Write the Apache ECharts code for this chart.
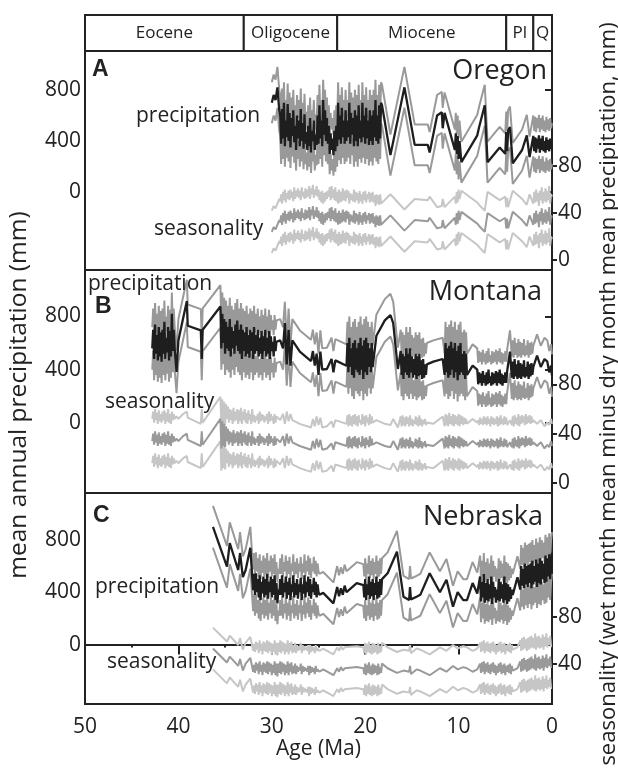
<!DOCTYPE html>
<html>
<head>
<meta charset="utf-8">
<script src="https://cdn.jsdelivr.net/npm/echarts@6/dist/echarts.min.js"></script>
<style>
html, body { margin: 0; padding: 0; background: #fff; }
#chart { width: 618px; height: 769px; }
</style>
</head>
<body>
<div id="chart"></div>
<script>
// epochs: [from Ma, to Ma, label]
var epochs = [[50, 33.0, 'Eocene'], [33.0, 23.0, 'Oligocene'], [23.0, 4.9, 'Miocene'], [4.9, 2.0, 'Pl'], [2.0, 0, 'Q']];
var precipTicks = [0, 400, 800];
var seasTicks = [0, 40, 80];

// model errors (mm)
var precipErr = 160;
var seasErr = 18;

// Oregon
var ageA = [30.0, 29.8, 29.6, 29.4, 29.2,
    29.1, 29.0, 28.9, 28.8, 28.7, 28.6, 28.5, 28.4, 28.3, 28.2,
    28.1, 28.0, 27.9, 27.8, 27.7, 27.6, 27.5, 27.4, 27.3, 27.2,
    27.1, 27.0, 26.9, 26.8, 26.7, 26.6, 26.5, 26.4, 26.3, 26.2,
    26.1, 26.0, 25.9, 25.8, 25.7, 25.6, 25.5, 25.4, 25.3, 25.2,
    25.1, 25.0, 24.9, 24.8, 24.7, 24.6, 24.5, 24.4, 24.3, 24.2,
    24.1, 24.0, 23.9, 23.8, 23.7, 23.6, 23.5, 23.4, 23.3, 23.2,
    23.1, 23.0, 22.9, 22.8, 22.7, 22.6, 22.5, 22.4, 22.3, 22.2,
    22.1, 22.0, 21.9, 21.8, 21.7, 21.6, 21.5, 21.4, 21.3, 21.2,
    21.1, 21.0, 20.9, 20.8, 20.7, 20.6, 20.5, 20.4, 20.3, 20.2,
    20.1, 20.0, 19.9, 19.8, 19.7, 19.6, 19.5, 19.4, 19.3, 19.2,
    19.1, 19.0, 18.9, 18.8, 18.7, 18.6, 18.5, 18.4, 18.3, 18.2,
    17.3, 15.8, 14.7, 13.3, 13.1, 12.3, 11.8, 11.7, 11.5, 10.4,
    10.3, 10.2, 10.1, 10.0, 9.9, 9.7, 9.5, 8.0, 7.8, 7.2,
    6.9, 5.6, 5.0, 4.9, 4.8, 4.7, 4.5, 4.2, 3.2, 2.7,
    2.4,
    2.0, 1.9, 1.8, 1.7, 1.6, 1.5, 1.4, 1.3, 1.2, 1.1,
    1.0, 0.9, 0.8, 0.7, 0.6, 0.5, 0.4, 0.3, 0.2, 0.1,
    0.0];
var mapA = [700, 760, 720, 820, 640,
    600, 380, 650, 420, 700, 360, 560, 430, 690, 400,
    620, 350, 580, 440, 640, 390, 520, 330, 600, 420,
    560, 360, 650, 400, 540, 340, 610, 380, 470, 330,
    520, 360, 580, 310, 480, 400, 560, 330, 450, 370,
    600, 380, 680, 420, 560, 360, 720, 450, 640, 400,
    580, 380, 520, 300, 460, 330, 420, 290, 480, 320,
    520, 360, 700, 410, 600, 380, 660, 430, 560, 380,
    640, 400, 560, 430, 700, 380, 620, 450, 580, 360,
    640, 400, 600, 360, 680, 420, 560, 390, 700, 430,
    600, 380, 660, 420, 560, 370, 640, 400, 600, 370,
    640, 430, 720, 400, 600, 380, 680, 420, 700, 680,
    290, 820, 370, 370, 310, 600, 625, 500, 620, 330,
    460, 300, 440, 260, 400, 235, 250, 445, 510, 680,
    235, 350, 300, 470, 320, 480, 510, 225, 330, 445,
    275,
    440, 320, 430, 310, 420, 340, 445, 310, 420, 330,
    440, 320, 400, 310, 430, 330, 410, 320, 420, 340,
    380];
var seasA = [24, 28, 26, 30, 34,
    32, 38, 30, 40, 33, 42, 31, 39, 34, 41,
    33, 42, 35, 40, 32, 44, 34, 41, 36, 43,
    35, 41, 33, 44, 36, 40, 34, 43, 35, 42,
    36, 45, 34, 43, 38, 46, 35, 42, 37, 45,
    36, 42, 33, 40, 31, 41, 30, 39, 32, 40,
    34, 41, 36, 44, 33, 45, 35, 42, 33, 44,
    32, 40, 30, 42, 31, 40, 32, 43, 33, 41,
    32, 42, 35, 41, 30, 39, 33, 38, 32, 42,
    31, 40, 33, 39, 30, 41, 32, 38, 30, 40,
    33, 41, 31, 38, 34, 40, 31, 39, 32, 40,
    31, 37, 28, 38, 30, 37, 29, 38, 30, 30,
    38, 25, 34, 33, 36, 27, 28, 34, 27, 36,
    30, 40, 31, 42, 34, 41, 40, 31, 29, 24,
    40, 33, 36, 27, 35, 27, 26, 41, 34, 29,
    38,
    30, 40, 31, 42, 32, 39, 28, 41, 33, 44,
    30, 40, 32, 43, 31, 41, 33, 45, 30, 38,
    36];

// Montana
var ageB = [42.8, 42.7, 42.6, 42.5, 42.4, 42.3, 42.2, 42.1, 42.0, 41.9,
    41.8, 41.7, 41.6, 41.5, 41.4, 41.3, 41.2, 41.1, 41.0, 40.9,
    40.8, 40.7, 40.6, 40.5, 40.4,
    40.2, 40.0, 39.5, 39.1, 39.0, 38.8, 37.6, 37.5, 37.4,
    35.5, 35.4, 35.3, 35.2, 35.1, 35.0, 34.9, 34.8, 34.7, 34.6,
    34.5, 34.4, 34.3, 34.2, 34.1, 34.0, 33.9, 33.8, 33.7, 33.6,
    33.5, 33.4, 33.3, 33.2, 33.1, 33.0, 32.9, 32.8, 32.7, 32.6,
    32.5, 32.4, 32.3, 32.2, 32.1, 32.0, 31.9, 31.8, 31.7, 31.6,
    31.5, 31.4, 31.3, 31.2, 31.1, 31.0, 30.9, 30.8, 30.7, 30.6,
    30.5, 30.4, 30.3, 30.2, 30.1, 30.0, 29.9, 29.8, 29.7, 29.6,
    29.5,
    29.1, 28.8, 28.6, 28.4, 28.2, 28.0, 27.8, 27.0, 25.8, 25.6,
    25.4, 25.2, 25.0, 24.8, 24.6, 24.1, 23.6, 23.4, 23.2, 22.0,
    21.9, 21.8, 21.7, 21.6, 21.5, 21.4, 21.3, 21.2, 21.1, 21.0,
    20.9, 20.8, 20.7, 20.6, 20.5, 20.4, 20.3, 20.2, 20.1, 20.0,
    19.9, 19.8, 19.7, 19.6, 19.5, 19.4, 19.3, 19.2,
    18.8, 17.9, 17.3, 17.0, 16.5,
    16.2, 16.1, 16.0, 15.9, 15.8, 15.7, 15.6, 15.5, 15.4, 15.3,
    15.2, 15.1, 15.0, 14.9, 14.8, 14.7, 14.6, 14.5, 14.4, 14.3,
    14.2, 14.1, 14.0, 13.9, 13.8, 13.7, 13.6, 13.5, 13.4,
    12.7, 11.7,
    11.5, 11.4, 11.3, 11.2, 11.1, 11.0, 10.9, 10.8, 10.7, 10.6,
    10.5, 10.4, 10.3, 10.2, 10.1, 10.0, 9.9, 9.8, 9.7, 9.6,
    9.5, 9.4, 9.3, 9.2, 9.1,
    8.5,
    8.0, 7.9, 7.8, 7.7, 7.6, 7.5, 7.4, 7.3, 7.2, 7.1,
    7.0, 6.9, 6.8, 6.7, 6.6, 6.5, 6.4, 6.3, 6.2, 6.1,
    6.0, 5.9, 5.8, 5.7, 5.6, 5.5, 5.4, 5.3, 5.2, 5.1,
    5.0, 4.9, 4.8,
    4.5,
    4.3, 4.2, 4.1, 4.0, 3.9, 3.8, 3.7, 3.6, 3.5, 3.4,
    3.3, 3.2, 3.1, 3.0, 2.9, 2.8, 2.7, 2.6, 2.5, 2.4,
    2.3, 2.2, 2.1, 2.0,
    1.6, 1.2, 0.8, 0.5, 0.3, 0.1, 0.0];
var mapB = [560, 700, 480, 740, 520, 660, 470, 720, 500, 680,
    460, 700, 520, 760, 480, 640, 530, 720, 470, 690,
    500, 820, 540, 700, 560,
    383, 620, 785, 915, 730, 730, 695, 480, 700,
    875, 560, 820, 600, 780, 520, 760, 560, 720, 540,
    780, 500, 720, 560, 690, 520, 740, 580, 770, 540,
    700, 520, 740, 480, 700, 540, 680, 500, 720, 520,
    660, 490, 700, 540, 680, 480, 720, 520, 660, 540,
    700, 500, 640, 520, 690, 480, 650, 540, 700, 500,
    640, 520, 690, 480, 650, 540, 610, 500, 650, 540,
    610,
    620, 560, 750, 440, 700, 430, 620, 535, 465, 540,
    430, 520, 360, 535, 400, 405, 480, 380, 470, 430,
    600, 380, 640, 420, 560, 360, 600, 340, 620, 400,
    560, 380, 600, 360, 640, 400, 580, 330, 620, 380,
    640, 360, 600, 420, 560, 380, 600, 420,
    655, 770, 810, 750, 405,
    540, 360, 520, 330, 500, 380, 560, 360, 520, 340,
    560, 380, 500, 340, 480, 360, 520, 330, 500, 350,
    520, 360, 470, 330, 480, 340, 440, 360, 440,
    460, 480,
    360, 600, 380, 560, 340, 580, 360, 610, 400, 560,
    340, 600, 380, 540, 320, 580, 360, 600, 380, 520,
    360, 540, 330, 520, 360,
    430,
    400, 290, 380, 300, 370, 280, 390, 300, 360, 280,
    380, 290, 400, 300, 350, 280, 380, 290, 370, 300,
    390, 280, 380, 300, 400, 290, 370, 280, 360, 300,
    380, 300, 390,
    535,
    340, 460, 330, 480, 350, 440, 330, 470, 340, 450,
    330, 440, 350, 470, 340, 420, 350, 460, 330, 440,
    350, 450, 360, 420,
    505, 420, 480, 460, 380, 430, 355];
var seasB = [34, 40, 31, 42, 33, 39, 30, 41, 32, 38,
    31, 40, 33, 41, 30, 39, 32, 42, 31, 38,
    30, 40, 33, 38, 34,
    36, 34, 38, 40, 35, 36, 30, 42, 31,
    52, 28, 50, 30, 48, 29, 46, 34, 44, 31,
    42, 33, 41, 30, 43, 32, 40, 33, 42, 30,
    41, 32, 43, 30, 40, 33, 42, 31, 39, 30,
    41, 33, 38, 30, 42, 32, 37, 31, 36, 33,
    38, 30, 40, 32, 38, 33, 37, 31, 36, 33,
    38, 30, 40, 32, 38, 33, 36, 30, 38, 31,
    36,
    33, 38, 30, 40, 32, 38, 33, 30, 27, 34,
    28, 36, 29, 35, 27, 28, 32, 27, 33, 30,
    37, 28, 38, 29, 36, 28, 37, 30, 38, 29,
    36, 28, 37, 31, 33, 29, 38, 30, 36, 28,
    37, 31, 35, 29, 38, 30, 36, 31,
    33, 30, 29, 34, 27,
    36, 28, 37, 29, 35, 28, 36, 30, 35, 28,
    37, 29, 34, 28, 33, 30, 36, 29, 35, 28,
    37, 29, 34, 28, 33, 30, 34, 29, 31,
    30, 36,
    28, 38, 29, 37, 28, 39, 30, 36, 29, 38,
    28, 37, 30, 36, 29, 38, 28, 37, 30, 36,
    29, 35, 30, 34, 30,
    34,
    31, 33, 29, 35, 30, 34, 29, 36, 30, 35,
    29, 36, 30, 34, 28, 36, 30, 35, 29, 34,
    30, 36, 28, 35, 29, 37, 30, 34, 29, 36,
    30, 35, 29,
    33,
    29, 36, 28, 37, 30, 35, 29, 38, 28, 36,
    30, 37, 31, 36, 29, 38, 30, 36, 31, 37,
    30, 36, 31, 33,
    30, 33, 28, 31, 29, 34, 30];

// Nebraska
var ageC = [36.3, 34.8, 34.5, 33.6, 33.4, 33.1, 32.8, 32.3,
    32.0, 31.9, 31.8, 31.7, 31.6, 31.5, 31.4, 31.3, 31.2, 31.1,
    31.0, 30.9, 30.8, 30.7, 30.6, 30.5, 30.4, 30.3, 30.2, 30.1,
    30.0, 29.9, 29.8, 29.7, 29.6, 29.5, 29.4, 29.3, 29.2, 29.1,
    29.0, 28.9, 28.8, 28.7, 28.6, 28.5, 28.4, 28.3, 28.2, 28.1,
    28.0, 27.9, 27.8, 27.7, 27.6, 27.5, 27.4, 27.3, 27.2, 27.1,
    27.0, 26.9, 26.8, 26.7, 26.6, 26.5, 26.4, 26.3, 26.2, 26.1,
    26.0, 25.9, 25.8, 25.7, 25.6, 25.5, 25.4, 25.3, 25.2, 25.1,
    25.0, 24.9,
    24.5, 23.4, 23.0, 22.8, 22.6, 22.4, 22.2, 22.0, 20.9,
    20.2, 20.1, 20.0, 19.9, 19.8, 19.7, 19.6, 19.5, 19.4, 19.3,
    19.2, 19.1, 19.0, 18.9, 18.8, 18.7, 18.6, 18.5, 18.4, 18.3,
    18.2,
    17.6, 16.6, 15.9, 15.3, 15.2, 15.1, 14.5, 14.1, 13.1, 12.0,
    11.3, 10.6, 10.1, 9.5, 9.1, 8.5, 8.0,
    7.7, 7.6, 7.5, 7.4, 7.3, 7.2, 7.1, 7.0, 6.9, 6.8,
    6.7, 6.6, 6.5, 6.4, 6.3, 6.2, 6.1, 6.0, 5.9, 5.8,
    5.7, 5.6, 5.5, 5.4, 5.3, 5.2, 5.1, 5.0, 4.9, 4.8,
    4.7, 4.6, 4.5, 4.4, 4.3, 4.2,
    3.7,
    3.4, 3.3, 3.2, 3.1, 3.0, 2.9, 2.8, 2.7, 2.6, 2.5,
    2.4, 2.3, 2.2, 2.1, 2.0, 1.9, 1.8, 1.7, 1.6, 1.5,
    1.4, 1.3, 1.2, 1.1, 1.0, 0.9, 0.8, 0.7, 0.6, 0.5,
    0.4, 0.3, 0.2, 0.1, 0.0];
var mapC = [900, 595, 775, 570, 700, 515, 570, 740,
    415, 540, 380, 545, 400, 500, 360, 530, 340, 480,
    390, 520, 360, 500, 380, 540, 350, 480, 400, 520,
    360, 500, 380, 530, 340, 470, 315, 420, 380, 500,
    380, 530, 360, 470, 400, 520, 350, 480, 380, 510,
    340, 460, 400, 530, 360, 470, 380, 500, 350, 460,
    400, 510, 340, 460, 390, 530, 360, 480, 400, 520,
    370, 500, 350, 460, 400, 510, 380, 480, 360, 460,
    400, 380,
    395, 315, 440, 370, 430, 380, 450, 400, 470,
    455, 360, 500, 340, 460, 380, 520, 350, 480, 370,
    500, 340, 470, 380, 520, 350, 480, 360, 500, 380,
    500,
    545, 710, 365, 340, 440, 345, 365, 380, 545, 400,
    495, 290, 400, 340, 340, 470, 390,
    520, 330, 480, 360, 540, 320, 470, 340, 500, 330,
    460, 350, 520, 310, 480, 360, 440, 320, 420, 340,
    500, 330, 480, 350, 460, 320, 520, 340, 470, 310,
    460, 330, 440, 350, 420, 380,
    515,
    420, 600, 450, 580, 430, 620, 460, 600, 440, 610,
    470, 620, 430, 640, 460, 600, 480, 650, 440, 620,
    470, 660, 460, 640, 500, 620, 470, 680, 480, 660,
    520, 690, 500, 640, 700];
var seasC = [53, 41, 46, 38, 44, 34, 40, 45,
    33, 39, 32, 41, 34, 40, 31, 42, 33, 39,
    30, 41, 33, 40, 32, 42, 31, 41, 33, 40,
    30, 39, 32, 42, 30, 40, 29, 40, 32, 42,
    31, 41, 33, 40, 30, 39, 32, 42, 30, 40,
    33, 41, 31, 38, 32, 40, 31, 38, 33, 37,
    34, 40, 31, 38, 33, 37, 34, 36, 33, 38,
    30, 38, 32, 37, 33, 36, 31, 38, 33, 35,
    35, 33,
    35, 30, 36, 33, 37, 34, 36, 35, 37,
    36, 31, 40, 30, 39, 32, 41, 31, 38, 30,
    40, 31, 39, 32, 38, 30, 40, 31, 37, 32,
    40,
    36, 32, 34, 33, 38, 31, 35, 34, 30, 36,
    33, 38, 35, 37, 36, 33, 35,
    40, 32, 41, 33, 42, 31, 40, 33, 41, 32,
    39, 31, 40, 33, 41, 32, 39, 30, 38, 32,
    40, 33, 41, 31, 39, 32, 40, 30, 38, 33,
    39, 32, 40, 31, 38, 34,
    36,
    42, 33, 44, 34, 45, 35, 43, 33, 44, 34,
    45, 35, 46, 36, 44, 35, 48, 34, 45, 36,
    46, 35, 44, 36, 47, 34, 45, 37, 48, 36,
    44, 38, 46, 37, 37];

var FONT = '"Open Sans", "Noto Sans", sans-serif';
var INK = '#222';

function pts(ages, vals, off) {
    if (ages.length !== vals.length) throw new Error('length mismatch ' + ages.length + ' / ' + vals.length);
    return ages.map(function (a, i) { return [a, vals[i] + off]; });
}

// axis ranges
var panels = [
    { top: 51, height: 219, pMin: -608, pMax: 1104, sMin: -8.5, sMax: 178, sTicks: seasTicks, age: ageA, map: mapA, seas: seasA },
    { top: 270, height: 223, pMin: -527, pMax: 1149, sMin: -8.2, sMax: 173, sTicks: seasTicks, age: ageB, map: mapB, seas: seasB },
    { top: 493, height: 211, pMin: -455, pMax: 1159, sMin: 5.2, sMax: 187, sTicks: [40, 80], age: ageC, map: mapC, seas: seasC }
];

var grids = [{ left: 85, right: 66, top: 15, height: 36, show: false }];
var xAxes = [{ type: 'value', gridIndex: 0, min: 0, max: 50, inverse: true, show: false }];
var yAxes = [{ type: 'value', gridIndex: 0, min: 0, max: 1, show: false }];
var series = [{
    type: 'custom',
    xAxisIndex: 0, yAxisIndex: 0,
    data: epochs.map(function (e) { return [e[0], e[1]]; }),
    renderItem: function (params, api) {
        var p0 = api.coord([api.value(0), 0]);
        var p1 = api.coord([api.value(1), 1]);
        var x0 = Math.min(p0[0], p1[0]), x1 = Math.max(p0[0], p1[0]);
        return {
            type: 'group',
            children: [{
                type: 'rect',
                shape: { x: x0, y: p1[1], width: x1 - x0, height: p0[1] - p1[1] },
                style: { fill: '#fff', stroke: INK, lineWidth: 2 }
            }, {
                type: 'text',
                style: {
                    text: epochs[params.dataIndex][2],
                    x: (x0 + x1) / 2, y: (p0[1] + p1[1]) / 2,
                    align: 'center', verticalAlign: 'middle',
                    fontSize: 17, fontFamily: FONT, fill: INK
                }
            }]
        };
    }
}];

panels.forEach(function (p, k) {
    var gi = k + 1;
    var last = k === panels.length - 1;
    grids.push({ left: 85, right: 66, top: p.top, height: p.height, show: true, borderColor: INK, borderWidth: 2 });
    xAxes.push({
        type: 'value', gridIndex: gi, min: 0, max: 50, interval: 10, inverse: true,
        show: last,
        axisLine: { show: true, lineStyle: { color: INK, width: 2 } },
        axisTick: { show: true, length: 10, lineStyle: { color: INK, width: 2 } },
        minorTick: { show: true, splitNumber: 2, length: 3, lineStyle: { color: INK, width: 2 } },
        axisLabel: { show: true, fontSize: 21, fontFamily: FONT, color: INK, margin: 13 },
        splitLine: { show: false },
        name: last ? 'Age (Ma)' : '',
        nameLocation: 'middle', nameGap: 35,
        nameTextStyle: { fontSize: 21, fontFamily: FONT, color: INK }
    });
    var li = yAxes.length;
    yAxes.push({
        type: 'value', gridIndex: gi, position: 'left', min: p.pMin, max: p.pMax,
        axisLine: { show: true, lineStyle: { color: INK, width: 2 } },
        axisTick: { show: true, length: 7, customValues: precipTicks, lineStyle: { color: INK, width: 2 } },
        axisLabel: { customValues: precipTicks, fontSize: 21, fontFamily: FONT, color: INK, margin: 4 },
        splitLine: { show: false }
    });
    yAxes.push({
        type: 'value', gridIndex: gi, position: 'right', min: p.sMin, max: p.sMax,
        axisLine: { show: true, lineStyle: { color: INK, width: 2 } },
        axisTick: { show: true, length: 5, customValues: p.sTicks, lineStyle: { color: INK, width: 2 } },
        axisLabel: { customValues: p.sTicks, fontSize: 21, fontFamily: FONT, color: INK, margin: 6 },
        splitLine: { show: false }
    });
    function line(data, yi, color, w) {
        return {
            type: 'line', xAxisIndex: gi, yAxisIndex: yi, data: data,
            symbol: 'none', showSymbol: false, silent: true, animation: false,
            lineStyle: { color: color, width: w }, z: 2
        };
    }
    series.push(line(pts(p.age, p.seas, seasErr), li + 1, '#c6c6c6', 2));
    series.push(line(pts(p.age, p.seas, -seasErr), li + 1, '#c6c6c6', 2));
    series.push(line(pts(p.age, p.seas, 0), li + 1, '#9a9a9a', 2));
    series.push(line(pts(p.age, p.map, precipErr), li, '#999', 2));
    series.push(line(pts(p.age, p.map, -precipErr), li, '#999', 2));
    series.push(line(pts(p.age, p.map, 0), li, '#1e1e1e', 2.3));
});

function label(txt, x, y, size, opts) {
    opts = opts || {};
    return {
        type: 'text', x: x, y: y, rotation: opts.rot || 0, z: 10,
        style: {
            text: txt, align: opts.align || 'left', verticalAlign: 'middle',
            fontSize: size, fontFamily: opts.family || FONT,
            fontWeight: opts.bold ? 'bold' : 'normal', fill: INK
        }
    };
}

var letterFont = '"Liberation Sans", Arial, sans-serif';
var graphics = [
    label('A', 92, 69.5, 23, { bold: true, family: letterFont }),
    label('B', 95, 306.5, 23, { bold: true, family: letterFont }),
    label('C', 93, 516, 23, { bold: true, family: letterFont }),
    label('Oregon', 547, 71.5, 27, { align: 'right' }),
    label('Montana', 542, 292.3, 27, { align: 'right' }),
    label('Nebraska', 543, 517.3, 27, { align: 'right' }),
    label('precipitation', 136, 115.7, 21),
    label('seasonality', 154, 229, 21),
    label('precipitation', 88, 284, 21),
    label('seasonality', 105, 402, 21),
    label('precipitation', 95, 587, 21),
    label('seasonality', 107, 662, 21),
    label('mean annual precipitation (mm)', 19, 395, 24.5, { align: 'center', rot: Math.PI / 2 }),
    label('seasonality (wet month mean minus dry month mean precipitation, mm)', 609, 394, 22, { align: 'center', rot: Math.PI / 2 })
];

var chart = echarts.init(document.getElementById('chart'), null, { renderer: 'canvas' });
chart.setOption({
    animation: false,
    backgroundColor: '#fff',
    grid: grids,
    xAxis: xAxes,
    yAxis: yAxes,
    series: series,
    graphic: graphics
});
</script>
</body>
</html>
